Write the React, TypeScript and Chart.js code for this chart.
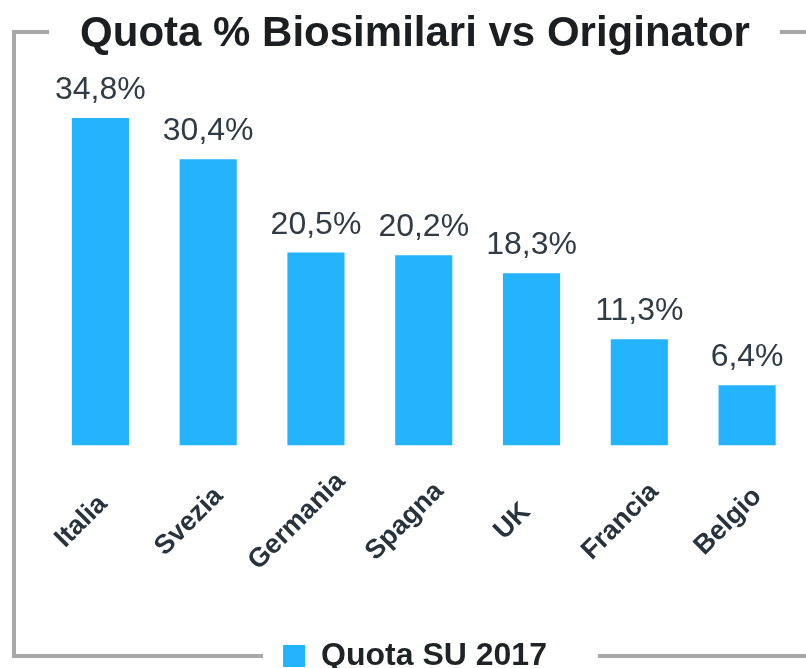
import React, { useEffect, useRef } from 'react';
import { Chart, registerables } from 'chart.js';

Chart.register(...registerables);

const chartTitle = 'Quota % Biosimilari vs Originator';
const seriesLabel = 'Quota SU 2017';
const categories = ['Italia', 'Svezia', 'Germania', 'Spagna', 'UK', 'Francia', 'Belgio'];
const quotaSU2017 = [34.8, 30.4, 20.5, 20.2, 18.3, 11.3, 6.4];

const FONT = "'Liberation Sans', Arial, Helvetica, sans-serif";
const BAR_COLOR = '#24b4fe';
const FRAME_COLOR = '#a8a8a8';

const fmt = (v: number) => v.toFixed(1).replace('.', ',') + '%';

const decorPlugin = {
  id: 'decor',
  afterDraw(chart: any) {
    const ctx = chart.ctx as CanvasRenderingContext2D;
    const area = chart.chartArea;
    ctx.save();

    // value labels above bars
    const meta = chart.getDatasetMeta(0);
    ctx.font = `32px ${FONT}`;
    ctx.fillStyle = '#2f3b45';
    ctx.textAlign = 'center';
    ctx.textBaseline = 'alphabetic';
    meta.data.forEach((bar: any, i: number) => {
      const v = chart.data.datasets[0].data[i] as number;
      ctx.fillText(fmt(v), bar.x, bar.y - 19);
    });

    // rotated category labels, centred
    const xs = chart.scales.x;
    ctx.font = `bold 27px ${FONT}`;
    ctx.fillStyle = '#27343e';
    ctx.textAlign = 'center';
    ctx.textBaseline = 'middle';
    (chart.data.labels as string[]).forEach((c: string, i: number) => {
      const x = xs.getPixelForTick(i) - 19;
      const y = area.bottom + 76;
      ctx.save();
      ctx.translate(x, y);
      ctx.rotate(-Math.PI / 4);
      ctx.fillText(c, 0, 0);
      ctx.restore();
    });

    // frame with gaps for title and legend
    ctx.font = `bold 42px ${FONT}`;
    const tw = ctx.measureText(chartTitle).width;
    const tb = chart.titleBlock;
    const tc = (tb.left + tb.right) / 2;
    const tgL = tc - tw / 2 - 31;
    const tgR = tc + tw / 2 + 30;
    const hb = chart.legend.legendHitBoxes[0];
    const lgL = hb.left - 20;
    const lgR = hb.left + hb.width + 51;

    ctx.strokeStyle = FRAME_COLOR;
    ctx.lineWidth = 4;
    ctx.lineJoin = 'miter';
    ctx.lineCap = 'butt';
    ctx.beginPath();
    ctx.moveTo(tgL, 32);
    ctx.lineTo(14, 32);
    ctx.lineTo(14, 656);
    ctx.lineTo(lgL, 656);
    ctx.stroke();
    ctx.beginPath();
    ctx.moveTo(tgR, 32);
    ctx.lineTo(806, 32);
    ctx.moveTo(lgR, 656);
    ctx.lineTo(806, 656);
    ctx.stroke();

    ctx.restore();
  },
};

export default function App() {
  const ref = useRef<HTMLCanvasElement | null>(null);

  useEffect(() => {
    if (!ref.current) return;
    const chart = new Chart(ref.current, {
      type: 'bar',
      data: {
        labels: categories,
        datasets: [
          {
            label: seriesLabel,
            data: quotaSU2017,
            backgroundColor: BAR_COLOR,
            borderWidth: 0,
            categoryPercentage: 1,
            barPercentage: 0.53,
          },
        ],
      },
      options: {
        responsive: false,
        animation: false,
        devicePixelRatio: 1,
        layout: { padding: { left: 29, right: 5, top: 0, bottom: 0 } },
        scales: {
          x: {
            display: true,
            grid: { display: false },
            border: { display: false },
            ticks: { display: false },
            afterFit: (s: any) => {
              s.height = 184.5;
            },
          },
          y: {
            display: true,
            min: 0,
            max: 40,
            grid: { display: false },
            border: { display: false },
            ticks: { display: false },
            afterFit: (s: any) => {
              s.width = 17.5;
            },
          },
        },
        plugins: {
          title: {
            display: true,
            text: chartTitle,
            color: '#1b1f22',
            font: { family: FONT, size: 42, weight: 'bold' },
            padding: { top: 9, bottom: 9.6 },
          },
          legend: {
            display: true,
            position: 'bottom',
            labels: {
              color: '#1e2326',
              font: { family: FONT, size: 32, weight: 'bold' },
              boxWidth: 22,
              boxHeight: 22,
              padding: 10,
            },
          },
          tooltip: { enabled: false },
        },
      },
      plugins: [decorPlugin],
    } as any);
    return () => chart.destroy();
  }, []);

  return (
    <div
      style={{
        position: 'fixed',
        left: 0,
        top: 0,
        width: 806,
        height: 668,
        overflow: 'hidden',
        background: '#ffffff',
      }}
    >
      <canvas ref={ref} width={806} height={682} style={{ width: 806, height: 682, display: 'block' }} />
    </div>
  );
}
